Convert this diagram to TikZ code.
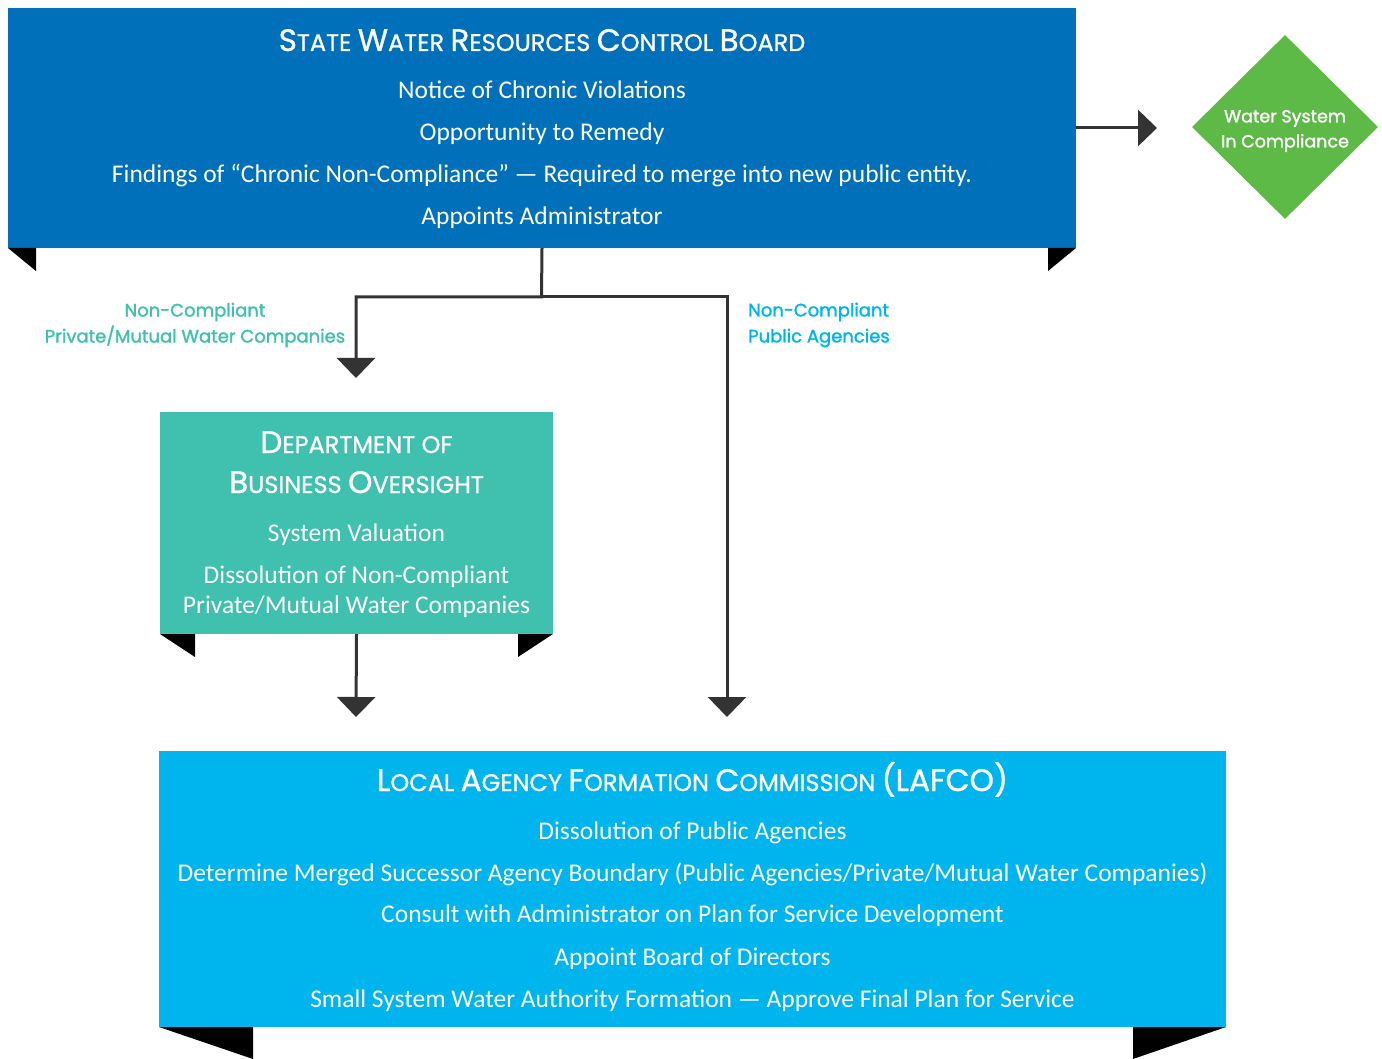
\documentclass[tikz,border=0pt]{standalone}
\usepackage{fontspec}
\setmainfont{Carlito}
\newfontfamily\geo[FakeBold=1]{Poppins}
\newfontfamily\geol[FakeBold=1.6]{Poppins}
\usetikzlibrary{arrows.meta,shapes.geometric}
\definecolor{sblue}{HTML}{0070BB}
\definecolor{steal}{HTML}{40C0AF}
\definecolor{scyan}{HTML}{00B5EE}
\definecolor{sgreen}{HTML}{5DBA47}
\definecolor{sgray}{HTML}{333333}
\newcommand\fsc[2]{{\fontsize{31}{34}\selectfont #1}{\fontsize{24}{28}\selectfont #2}}
\begin{document}
\begin{tikzpicture}[x=1pt,y=-1pt,
  box/.style={draw=none,inner sep=0pt,minimum width=#1},
  body/.style={text=white,font=\fontsize{25.5}{30}\selectfont,anchor=base,inner sep=0pt},
  ttl/.style={text=white,font=\geo\fontsize{24}{28}\selectfont,anchor=base,inner sep=0pt},
  lab/.style={font=\geol\fontsize{18}{26}\selectfont,inner sep=0pt,align=center},
  conn/.style={draw=sgray,line width=3pt,-{Triangle[width=38pt,length=20pt]}},
  connr/.style={draw=sgray,line width=3pt,-{Triangle[width=36pt,length=19pt]}},
  fold/.style={fill=black}]
\useasboundingbox (0,0) rectangle (1382,1059);
% boxes
\node[box=1068pt,minimum height=240pt,fill=sblue] (swrcb) at (542,128) {};
\node[box=393pt,minimum height=222pt,fill=steal] (dbo) at (356.5,523) {};
\node[box=1067pt,minimum height=276pt,fill=scyan] (lafco) at (692.5,889) {};
\node[diamond,fill=sgreen,minimum width=186pt,minimum height=184pt,inner sep=0pt] (ok) at (1285,127) {};
% folds
\fill[fold] (8,248) -- (36,248) -- (36,271) -- cycle;
\fill[fold] (1048,248) -- (1076,248) -- (1048,271) -- cycle;
\fill[fold] (160,634) -- (195,634) -- (195,657) -- cycle;
\fill[fold] (518,634) -- (553,634) -- (518,657) -- cycle;
\fill[fold] (159,1027) -- (253,1027) -- (253,1059) -- cycle;
\fill[fold] (1133,1027) -- (1226,1027) -- (1133,1059) -- cycle;
% texts SWRCB
\node[ttl] (t1) at (542,51) {\fsc{S}{TATE} \fsc{W}{ATER} \fsc{R}{ESOURCES} \fsc{C}{ONTROL} \fsc{B}{OARD}};
\node[body] (t1a) at (542,99) {Notice of Chronic Violations};
\node[body] (t1b) at (542,141) {Opportunity to Remedy};
\node[body] (t1c) at (542,183) {Findings of “Chronic Non-Compliance” — Required to merge into new public entity.};
\node[body] (t1d) at (542,225) {Appoints Administrator};
% diamond text
\node[lab,text=white,font=\geol\fontsize{17.5}{25}\selectfont] (okt) at (1285,131) {Water System\\In Compliance};
% DBO
\node[ttl] (t2) at (356.5,453) {\fsc{D}{EPARTMENT} \fsc{}{OF}};
\node[ttl] (t2b) at (356.5,493) {\fsc{B}{USINESS} \fsc{O}{VERSIGHT}};
\node[body] (t2c) at (356.5,541) {System Valuation};
\node[body] (t2d) at (356.5,583) {Dissolution of Non-Compliant};
\node[body] (t2e) at (356.5,613) {Private/Mutual Water Companies};
% LAFCO
\node[ttl] (t3) at (692.5,791) {\fsc{L}{OCAL} \fsc{A}{GENCY} \fsc{F}{ORMATION} \fsc{C}{OMMISSION} {\fontsize{31}{34}\selectfont (LAFCO)}};
\node[body] (t3a) at (692.5,839) {Dissolution of Public Agencies};
\node[body] (t3b) at (692.5,881) {Determine Merged Successor Agency Boundary (Public Agencies/Private/Mutual Water Companies)};
\node[body] (t3c) at (692.5,922) {Consult with Administrator on Plan for Service Development};
\node[body] (t3d) at (692.5,965) {Appoint Board of Directors};
\node[body] (t3e) at (692.5,1007) {Small System Water Authority Formation — Approve Final Plan for Service};
% labels
\node[lab,text=steal] (l1) at (195,325) {Non-Compliant\\Private/Mutual Water Companies};
\node[lab,text=scyan,align=left,anchor=west] (l2) at (748,325) {Non-Compliant\\Public Agencies};
% connectors
\coordinate (j) at (541.5,297);
\coordinate (a1) at (356,378);
\coordinate (a2) at (727,717);
\coordinate (a3) at (356,717);
\coordinate (a4) at (1157,128);
\draw[conn] (swrcb.south) -- (j) -| (a1);
\draw[conn] (j) -| (a2);
\draw[conn] (dbo.south) -- (a3);
\draw[connr] (swrcb.east) -- (a4);
\end{tikzpicture}
\end{document}
